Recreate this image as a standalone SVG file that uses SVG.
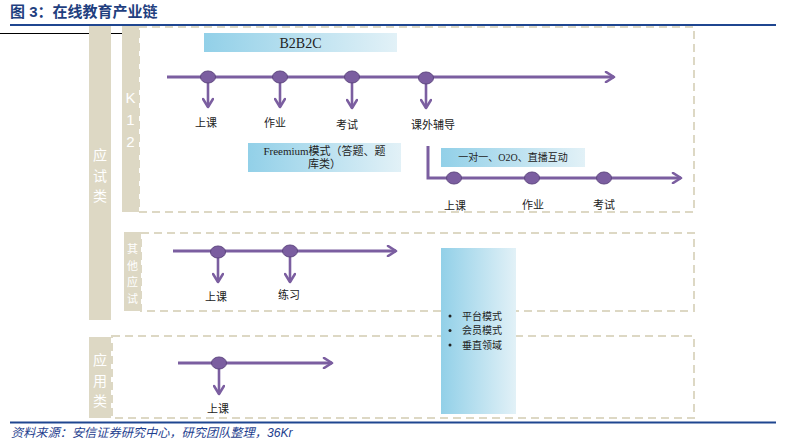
<svg xmlns="http://www.w3.org/2000/svg" width="786" height="448" viewBox="0 0 786 448">
<defs>
<linearGradient id="g" x1="0" y1="0" x2="1" y2="0">
<stop offset="0" stop-color="#92D0E8"/>
<stop offset="1" stop-color="#E2F1F7"/>
</linearGradient>
<marker id="ah" viewBox="0 0 12 12" refX="10" refY="6" markerWidth="12" markerHeight="12" markerUnits="userSpaceOnUse" orient="auto">
<polyline points="2,1 10,6 2,11" fill="none" stroke="#7B5EA0" stroke-width="2.6" stroke-linecap="round" stroke-linejoin="round"/>
</marker>
</defs>
<style>
.tan{fill:#DDD8C4}
.dash{fill:none;stroke:#DDD8C4;stroke-width:2;stroke-dasharray:8 5}
.vt{font-family:"Noto Sans CJK SC",sans-serif;font-size:14px;fill:#ffffff;text-anchor:middle}
.vs{font-family:"Noto Sans CJK SC",sans-serif;font-size:11px;fill:#ffffff;text-anchor:middle}
.vk{font-family:"Liberation Sans","DejaVu Sans",sans-serif;font-size:15px;fill:#ffffff;text-anchor:middle}
.line{stroke:#7B5EA0;stroke-width:3;fill:none}
.drop{stroke:#7B5EA0;stroke-width:2.6;fill:none}
.node{fill:#7B5EA0;stroke:#5E4680;stroke-width:1}
.lbl{font-family:"Noto Sans CJK SC",sans-serif;font-size:11px;fill:#222;text-anchor:middle}
.box{fill:url(#g)}
.bt{font-family:"Liberation Serif","Noto Sans CJK SC",serif;font-size:11px;fill:#222;text-anchor:middle}
</style>
<rect width="786" height="448" fill="#ffffff"/>
<g id="header">
<text x="10" y="17" font-family="Liberation Sans,'Noto Sans CJK SC',sans-serif" font-size="15" font-weight="bold" fill="#1F3F7F">图 3：在线教育产业链</text>
<line x1="10" y1="25" x2="776" y2="25" stroke="#1F4690" stroke-width="2.2"/>
<line x1="0" y1="33.5" x2="139" y2="33.5" stroke="#000" stroke-width="1"/>
</g>
<g id="col-yingshi">
<rect class="tan" x="89" y="26" width="22" height="294"/>
<text class="vt" x="100" y="160">应</text>
<text class="vt" x="100" y="180.5">试</text>
<text class="vt" x="100" y="201">类</text>
</g>
<g id="col-k12">
<rect class="tan" x="122" y="26" width="17" height="186"/>
<text class="vk" x="130.5" y="103">K</text>
<text class="vk" x="130.5" y="125">1</text>
<text class="vk" x="130.5" y="147">2</text>
<rect class="dash" x="139" y="27" width="555" height="185"/>
</g>
<g id="col-other">
<rect class="tan" x="124" y="232" width="17" height="79"/>
<text class="vs" x="132.5" y="253">其</text>
<text class="vs" x="132.5" y="269.5">他</text>
<text class="vs" x="132.5" y="286">应</text>
<text class="vs" x="132.5" y="302.5">试</text>
<rect class="dash" x="141" y="233" width="553" height="78"/>
</g>
<g id="col-app">
<rect class="tan" x="89" y="337" width="22" height="81"/>
<text class="vt" x="100" y="365">应</text>
<text class="vt" x="100" y="385.5">用</text>
<text class="vt" x="100" y="406">类</text>
<rect class="dash" x="112" y="336" width="582" height="82"/>
</g>
<g id="b2b2c">
<rect class="box" x="204" y="33" width="193" height="19"/>
<text x="300.5" y="47.5" font-family="Liberation Serif,serif" font-size="14" fill="#222" text-anchor="middle">B2B2C</text>
</g>
<g id="freemium">
<rect class="box" x="248" y="143" width="153" height="29"/>
<text class="bt" x="324.5" y="155">Freemium模式（答题、题</text>
<text class="bt" x="324.5" y="168">库类）</text>
</g>
<g id="o2o">
<rect class="box" x="441" y="148" width="144" height="19"/>
<text class="bt" x="513" y="161" style="font-size:10px">一对一、O2O、直播互动</text>
</g>
<g id="platform">
<rect class="box" x="441" y="248" width="75" height="166"/>
<g font-family="'Noto Sans CJK SC',sans-serif" font-size="10" fill="#222">
<circle cx="450" cy="316" r="1.5" fill="#222"/>
<circle cx="450" cy="330.5" r="1.5" fill="#222"/>
<circle cx="450" cy="345" r="1.5" fill="#222"/>
<text x="462" y="319.5">平台模式</text>
<text x="462" y="334">会员模式</text>
<text x="462" y="348.5">垂直领域</text>
</g>
</g>
<g id="connectors">
<line class="line" x1="167" y1="77" x2="614" y2="77" marker-end="url(#ah)"/>
<line class="drop" x1="208" y1="79" x2="208" y2="107" marker-end="url(#ah)"/>
<line class="drop" x1="280" y1="79" x2="280" y2="107" marker-end="url(#ah)"/>
<line class="drop" x1="352" y1="79" x2="352" y2="108" marker-end="url(#ah)"/>
<line class="drop" x1="426" y1="79" x2="426" y2="108" marker-end="url(#ah)"/>
<polyline class="line" points="428,146 428,178 681,178" marker-end="url(#ah)"/>
<line class="line" x1="173" y1="251" x2="396" y2="251" marker-end="url(#ah)"/>
<line class="drop" x1="218" y1="253" x2="218" y2="282" marker-end="url(#ah)"/>
<line class="drop" x1="290" y1="253" x2="290" y2="282" marker-end="url(#ah)"/>
<line class="line" x1="178" y1="363" x2="332" y2="363" marker-end="url(#ah)"/>
<line class="drop" x1="219" y1="365" x2="219" y2="394" marker-end="url(#ah)"/>
</g>
<g id="nodes-k12">
<ellipse class="node" cx="208" cy="77" rx="7.5" ry="6"/>
<ellipse class="node" cx="280" cy="77" rx="7.5" ry="6"/>
<ellipse class="node" cx="352" cy="77" rx="7.5" ry="6"/>
<ellipse class="node" cx="426" cy="78" rx="7.5" ry="6"/>
<text class="lbl" x="206" y="127">上课</text>
<text class="lbl" x="275" y="127">作业</text>
<text class="lbl" x="347" y="129">考试</text>
<text class="lbl" x="433" y="129">课外辅导</text>
<ellipse class="node" cx="454" cy="178" rx="7.5" ry="6"/>
<ellipse class="node" cx="532" cy="178" rx="7.5" ry="6"/>
<ellipse class="node" cx="604" cy="178" rx="7.5" ry="6"/>
<text class="lbl" x="455" y="210">上课</text>
<text class="lbl" x="533" y="209">作业</text>
<text class="lbl" x="604" y="209">考试</text>
</g>
<g id="nodes-other">
<ellipse class="node" cx="218" cy="252" rx="7.5" ry="6"/>
<ellipse class="node" cx="290" cy="251" rx="7.5" ry="6"/>
<text class="lbl" x="216" y="301">上课</text>
<text class="lbl" x="289" y="299">练习</text>
</g>
<g id="nodes-app">
<ellipse class="node" cx="219" cy="363" rx="7.5" ry="6"/>
<text class="lbl" x="218" y="413">上课</text>
</g>
<g id="footer">
<line x1="10" y1="422.5" x2="776" y2="422.5" stroke="#1F4690" stroke-width="2.2"/>
<text x="11" y="437" font-family="Liberation Sans,'Noto Sans CJK SC',sans-serif" font-size="12.2" font-style="italic" fill="#1F3F8F">资料来源：安信证券研究中心，研究团队整理，36Kr</text>
</g>
</svg>
